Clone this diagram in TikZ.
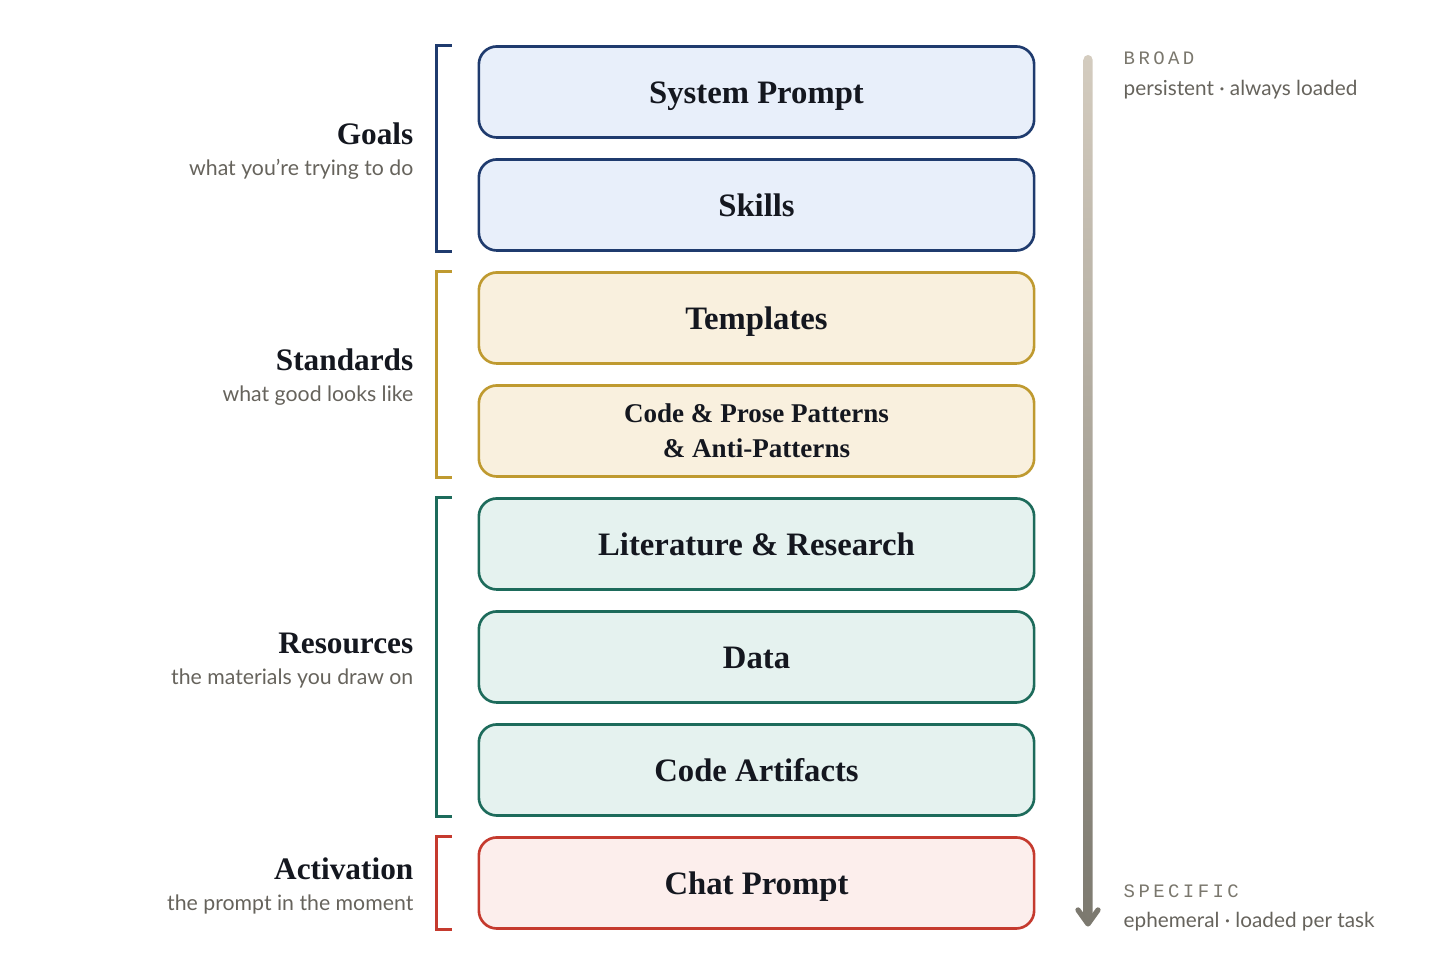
\documentclass[tikz,border=0pt]{standalone}
\usepackage{fontspec}
\setmainfont{Liberation Serif}
\setsansfont{Lato}
\newfontfamily\tagfont[LetterSpace=18]{Liberation Mono}
\usepackage{tikz}
\usetikzlibrary{positioning}

\definecolor{ink}{HTML}{14171F}
\definecolor{subgrey}{HTML}{66635C}
\definecolor{taggrey}{HTML}{7A776D}
\definecolor{goalcol}{HTML}{1F3B6E}
\definecolor{goalfill}{HTML}{E8EFFA}
\definecolor{stdcol}{HTML}{BF9A30}
\definecolor{stdfill}{HTML}{F9F0DE}
\definecolor{rescol}{HTML}{1D6B5B}
\definecolor{resfill}{HTML}{E5F2EF}
\definecolor{actcol}{HTML}{C53A2E}
\definecolor{actfill}{HTML}{FCEEEC}
\definecolor{arrowtop}{HTML}{D4CCBF}
\definecolor{arrowbot}{HTML}{7C796F}

\begin{document}
\begin{tikzpicture}[x=0.01cm, y=-0.01cm,
    kindbox/.style={draw=#1col, fill=#1fill}]
  \tikzstyle{every node} = [inner sep = 0pt];
  \tikzstyle{layer} = [draw, line width=0.75pt, rounded corners=0.18cm,
    minimum width=5.55cm, minimum height=0.91cm, text=ink,
    font=\bfseries\fontsize{9.3}{11}\selectfont, text height=6.4pt, text depth=0pt];
  \tikzstyle{bracket} = [line width=0.8pt];
  \tikzstyle{grouptitle} = [anchor=base east, text=ink, font=\bfseries\fontsize{8.9}{10}\selectfont];
  \tikzstyle{groupnote} = [anchor=base east, text=subgrey, font=\sffamily\fontsize{6.05}{7}\selectfont];
  \tikzstyle{tag} = [anchor=base west, text=taggrey, font=\tagfont\fontsize{5.4}{6}\selectfont];
  \tikzstyle{tagnote} = [anchor=base west, text=subgrey, font=\sffamily\fontsize{5.9}{7}\selectfont];

  \useasboundingbox (0,0) rectangle (1456,977);

  % the stack of layers
  \foreach \i/\nm/\lbl/\kind in {0/sysprompt/System Prompt/goal, 1/skills/Skills/goal,
      2/templates/Templates/std, 4/literature/Literature \& Research/res,
      5/data/Data/res, 6/artifacts/Code Artifacts/res, 7/chat/Chat Prompt/act}{
    \node[layer, kindbox=\kind] (\nm) at (756.5, 92+113*\i) {\lbl};
  }
  \node[layer, kindbox=std, align=center, text height=, text depth=,
    font=\bfseries\fontsize{7.7}{10}\selectfont] (patterns) at (756.5, 431)
    {Code \& Prose Patterns\\ \& Anti-Patterns};

  % brackets
  \draw[bracket, goalcol] ([xshift=-0.26cm]sysprompt.north west) -- ++(-15,0) |- ([xshift=-0.26cm]skills.south west);
  \draw[bracket, stdcol] ([xshift=-0.26cm]templates.north west) -- ++(-15,0) |- ([xshift=-0.26cm]patterns.south west);
  \draw[bracket, rescol] ([xshift=-0.26cm]literature.north west) -- ++(-15,0) |- ([xshift=-0.26cm]artifacts.south west);
  \draw[bracket, actcol] ([xshift=-0.26cm]chat.north west) -- ++(-15,0) |- ([xshift=-0.26cm]chat.south west);

  % group labels
  \node[grouptitle] (goals) at (414,145) {Goals};
  \node[groupnote] (goalsnote) at (414,176) {what you’re trying to do};
  \node[grouptitle] (standards) at (414,371) {Standards};
  \node[groupnote] (standardsnote) at (414,402) {what good looks like};
  \node[grouptitle] (resources) at (414,654) {Resources};
  \node[groupnote] (resourcesnote) at (414,685) {the materials you draw on};
  \node[grouptitle] (activation) at (414,880) {Activation};
  \node[groupnote] (activationnote) at (414,911) {the prompt in the moment};

  % broad to specific
  \coordinate (broad) at (1088,55);
  \coordinate (specific) at (1088,924);
  \shade[top color=arrowtop, bottom color=arrowbot, rounded corners=0.045cm]
    ([xshift=-0.045cm]broad) rectangle ([xshift=0.045cm]specific);
  \draw[arrowbot, line width=1.5pt, line cap=round, line join=round]
    (specific) ++(-10,-14) -- (specific) -- ++(10,-14);

  \node[tag] (broadtag) at (1123,65) {BROAD};
  \node[tagnote] (broadnote) at (1123,96) {persistent · always loaded};
  \node[tag] (spectag) at (1123,898) {SPECIFIC};
  \node[tagnote] (specnote) at (1123,928) {ephemeral · loaded per task};
\end{tikzpicture}
\end{document}
